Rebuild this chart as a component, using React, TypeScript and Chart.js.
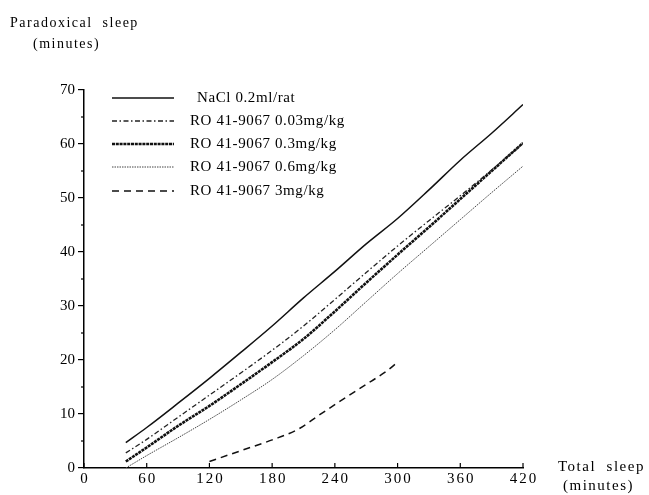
import React, { useEffect, useRef } from "react";
import Chart from "chart.js/auto";

const xValues = [40, 60, 90, 120, 150, 180, 210, 240, 270, 300, 330, 360, 390, 420];
const naclValues = [4.7, 7.5, 12.0, 16.6, 21.4, 26.3, 31.5, 36.4, 41.5, 46.2, 51.5, 57.0, 62.0, 67.3];
const ro003Values = [2.8, 5.3, 9.4, 13.5, 17.6, 21.8, 26.3, 31.2, 36.2, 41.1, 45.8, 50.4, 55.2, 60.1];
const ro03Values = [1.2, 3.8, 7.8, 11.5, 15.5, 19.6, 23.9, 29.0, 34.3, 39.5, 44.6, 49.8, 55.0, 60.2];
const ro06Values = [0.0, 2.3, 5.6, 9.0, 12.6, 16.4, 20.8, 25.6, 30.8, 36.0, 41.0, 46.0, 51.0, 55.9];
const ro3xValues = [120, 150, 180, 205, 225, 250, 275, 290, 300];
const ro3Values = [1.2, 3.2, 5.2, 7.2, 9.8, 13.0, 16.1, 18.0, 19.6];

const seriesLabels = [
  "NaCl 0.2ml/rat",
  "RO 41-9067 0.03mg/kg",
  "RO 41-9067 0.3mg/kg",
  "RO 41-9067 0.6mg/kg",
  "RO 41-9067 3mg/kg",
];
const xTicks = [0, 60, 120, 180, 240, 300, 360, 420];
const yTicks = [0, 10, 20, 30, 40, 50, 60, 70];
const yTitle = ["Paradoxical  sleep", "(minutes)"];
const xTitle = ["Total  sleep", "(minutes)"];

const FONT = "'Liberation Serif', 'DejaVu Serif', serif";

function pts(xs: number[], ys: number[]) {
  return xs.map((x, i) => ({ x, y: ys[i] }));
}

export default function App() {
  const ref = useRef<HTMLCanvasElement | null>(null);

  useEffect(() => {
    document.body.style.margin = "0";
    const canvas = ref.current!;
    const decor = {
      id: "decor",
      afterDraw(chart: any) {
        const ctx = chart.ctx;
        const xs = chart.scales.x;
        const ys = chart.scales.y;
        const area = chart.chartArea;
        ctx.save();
        ctx.strokeStyle = "#000";
        ctx.fillStyle = "#000";
        ctx.setLineDash([]);
        // x ticks pointing up + labels
        ctx.lineWidth = 1.2;
        ctx.font = `15px ${FONT}`;
        (ctx as any).letterSpacing = "2px";
        ctx.textAlign = "center";
        ctx.textBaseline = "top";
        xTicks.forEach((v) => {
          const px = xs.getPixelForValue(v);
          ctx.beginPath();
          ctx.moveTo(px, area.bottom);
          ctx.lineTo(px, area.bottom - 5);
          ctx.stroke();
          ctx.fillText(String(v), px + 1, area.bottom + 4);
        });
        // minor y ticks
        for (let v = 5; v < 70; v += 10) {
          const py = ys.getPixelForValue(v);
          ctx.beginPath();
          ctx.moveTo(area.left, py);
          ctx.lineTo(area.left - 3, py);
          ctx.stroke();
        }
        // legend
        ctx.textAlign = "left";
        ctx.font = `15px ${FONT}`;
        (ctx as any).letterSpacing = "0.6px";
        ctx.textBaseline = "middle";
        const rowYs = [98, 121, 144, 167, 191];
        chart.data.datasets.forEach((ds: any, i: number) => {
          const y = rowYs[i];
          ctx.beginPath();
          ctx.lineWidth = ds.borderWidth;
          ctx.strokeStyle = ds.borderColor;
          ctx.setLineDash(ds.borderDash || []);
          ctx.moveTo(112, y);
          ctx.lineTo(174, y);
          ctx.stroke();
          ctx.setLineDash([]);
          ctx.fillStyle = "#000";
          ctx.fillText(ds.label, i === 0 ? 197 : 190, y);
        });
        // titles
        ctx.font = `14px ${FONT}`;
        (ctx as any).letterSpacing = "1.5px";
        ctx.textBaseline = "alphabetic";
        ctx.fillText(yTitle[0], 10, 27);
        ctx.fillText(yTitle[1], 33, 48);
        ctx.font = `15px ${FONT}`;
        (ctx as any).letterSpacing = "1.5px";
        ctx.fillText(xTitle[0], 558, 471);
        ctx.fillText(xTitle[1], 563, 490);
        ctx.restore();
      },
    };

    const chart = new Chart(canvas, {
      type: "line",
      data: {
        datasets: [
          {
            label: seriesLabels[0],
            data: pts(xValues, naclValues),
            borderColor: "#111",
            borderWidth: 1.5,
            borderDash: [],
          },
          {
            label: seriesLabels[1],
            data: pts(xValues, ro003Values),
            borderColor: "#222",
            borderWidth: 1.3,
            borderDash: [5, 2.5, 1.5, 2.5],
          },
          {
            label: seriesLabels[2],
            data: pts(xValues, ro03Values),
            borderColor: "#111",
            borderWidth: 2.6,
            borderDash: [3, 0.8],
          },
          {
            label: seriesLabels[3],
            data: pts(xValues, ro06Values),
            borderColor: "#444",
            borderWidth: 1,
            borderDash: [1.5, 1],
          },
          {
            label: seriesLabels[4],
            data: pts(ro3xValues, ro3Values),
            borderColor: "#111",
            borderWidth: 1.5,
            borderDash: [7, 5],
          },
        ] as any,
      },
      options: {
        animation: false,
        responsive: false,
        maintainAspectRatio: false,
        layout: { padding: { left: 0, top: 90, right: 126, bottom: 0 } },
        elements: {
          point: { radius: 0 },
          line: { tension: 0.3, cubicInterpolationMode: "monotone", fill: false },
        },
        plugins: { legend: { display: false }, tooltip: { enabled: false } },
        scales: {
          x: {
            type: "linear",
            min: 0,
            max: 420,
            afterBuildTicks: (s: any) => {
              s.ticks = xTicks.map((v) => ({ value: v }));
            },
            afterFit: (s: any) => {
              s.height = 27;
            },
            grid: { display: false, drawOnChartArea: false, drawTicks: false },
            border: { display: true, color: "#000", width: 1.5 },
            ticks: { display: false },
          },
          y: {
            type: "linear",
            min: 0,
            max: 70,
            afterBuildTicks: (s: any) => {
              s.ticks = yTicks.map((v) => ({ value: v }));
            },
            afterFit: (s: any) => {
              s.width = 84;
            },
            grid: { drawOnChartArea: false, drawTicks: true, tickLength: 6, color: "#000", lineWidth: 1.2 },
            border: { display: true, color: "#000", width: 1.5 },
            ticks: {
              color: "#000",
              padding: 3,
              autoSkip: false,
              font: { family: FONT, size: 15 },
            },
          },
        },
      },
      plugins: [decor],
    } as any);
    return () => chart.destroy();
  }, []);

  return (
    <div style={{ width: 649, height: 495, background: "#fff" }}>
      <canvas ref={ref} width={649} height={495} style={{ width: 649, height: 495, display: "block" }} />
    </div>
  );
}
